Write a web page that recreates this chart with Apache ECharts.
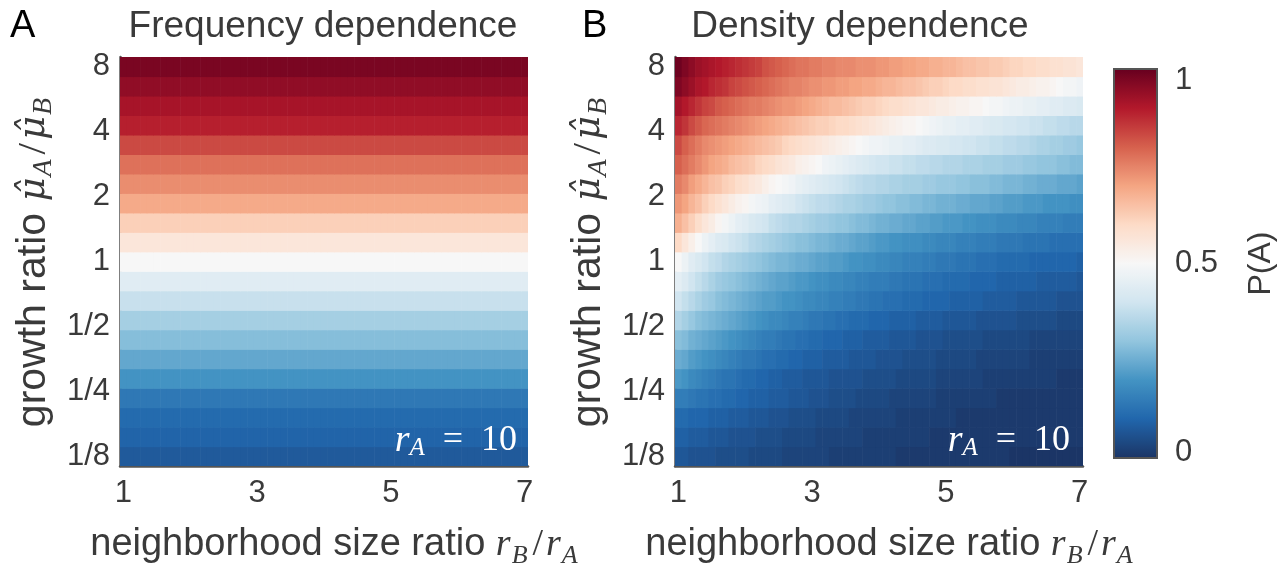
<!DOCTYPE html>
<html>
<head>
<meta charset="utf-8">
<title>P(A) heatmaps</title>
<script src="https://cdn.jsdelivr.net/npm/echarts@6/dist/echarts.min.js"></script>
<style>
    html, body { margin: 0; background: #fff; }
    #chart { width: 1287px; height: 565px; }
</style>
</head>
<body>
<div id="chart"></div>
<script>
// neighborhood size ratio r_B/r_A (one column per value)
var ratioCols = [1.0, 1.1, 1.2, 1.3, 1.4, 1.5, 1.6, 1.7, 1.8, 1.9,
    2.0, 2.1, 2.2, 2.3, 2.4, 2.5, 2.6, 2.7, 2.8, 2.9,
    3.0, 3.1, 3.2, 3.3, 3.4, 3.5, 3.6, 3.7, 3.8, 3.9,
    4.0, 4.1, 4.2, 4.3, 4.4, 4.5, 4.6, 4.7, 4.8, 4.9,
    5.0, 5.1, 5.2, 5.3, 5.4, 5.5, 5.6, 5.7, 5.8, 5.9,
    6.0, 6.1, 6.2, 6.3, 6.4, 6.5, 6.6, 6.7, 6.8, 6.9, 7.0]
// growth ratio as log2, bottom (1/8) to top (8)
var growthRows = [-3, -2.7, -2.4, -2.1, -1.8, -1.5, -1.2, -0.9, -0.6, -0.3, 0,
    0.3, 0.6, 0.9, 1.2, 1.5, 1.8, 2.1, 2.4, 2.7, 3]

var xTickVals = [1, 3, 5, 7]
var yTickVals = [-3, -2, -1, 0, 1, 2, 3]
var yTickLabels = ['1/8', '1/4', '1/2', '1', '2', '4', '8']
var cbTickVals = [0, 0.5, 1]

// A: frequency dependence, P(A) in percent per row (same along r_B/r_A)
var freqP = [7.5, 9.5, 11, 14, 20, 24, 28.5, 33, 38.5, 44, 50,
    56, 62, 69, 73.5, 77.5, 83, 89, 91.5, 94.5, 97.5]

// B: density dependence, P(A) in percent, rows bottom -> top, columns r_B/r_A 1..7
var densP = [
    [7,7,6,6,6,6,5,5,5,5, 5,4,4,4,4,4,3,3,3,3, 3,3,3,2,2,2,2,2,2,2, 2,2,2,1,1,1,1,1,1,1, 1,1,1,1,1,1,1,1,1,1, 0,0,0,0,0,0,0,0,0,0, 0],
    [9,9,8,8,8,7,7,7,6,6, 6,6,5,5,5,5,4,4,4,4, 4,3,3,3,3,3,3,3,2,2, 2,2,2,2,2,2,2,2,1,1, 1,1,1,1,1,1,1,1,1,1, 1,1,1,1,1,1,1,1,1,1, 1],
    [11,11,10,10,10,9,9,9,8,8, 8,7,7,7,6,6,6,5,5,5, 5,4,4,4,4,4,3,3,3,3, 3,3,3,2,2,2,2,2,2,2, 2,2,1,1,1,1,1,1,1,1, 1,1,1,1,1,1,1,1,1,1, 1],
    [15,15,14,13,13,12,12,11,11,10, 10,9,9,9,8,8,8,7,7,7, 6,6,6,5,5,5,5,4,4,4, 4,4,3,3,3,3,3,3,3,2, 2,2,2,2,2,2,2,2,1,1, 1,1,1,1,1,1,1,1,1,1, 1],
    [21,20,18,17,16,15,14,13,13,12, 11,11,10,10,9,9,8,8,8,7, 7,7,7,6,6,6,6,6,5,5, 5,5,5,4,4,4,4,4,4,3, 3,3,3,3,3,3,2,2,2,2, 2,2,2,2,2,2,2,1,1,1, 1],
    [25,24,22,21,20,19,18,17,16,15, 14,14,13,12,12,11,11,10,10,9, 9,9,8,8,8,8,7,7,7,7, 6,6,6,6,5,5,5,5,5,4, 4,4,4,4,4,3,3,3,3,3, 3,3,3,2,2,2,2,2,2,2, 2],
    [29,28,26,25,24,23,22,21,20,19, 18,17,16,15,15,14,13,13,12,12, 11,11,10,10,10,9,9,9,8,8, 8,8,7,7,7,7,6,6,6,6, 5,5,5,5,5,5,4,4,4,4, 4,4,4,3,3,3,3,3,3,3, 3],
    [35,33,31,29,28,27,26,25,24,23, 22,21,20,19,18,18,17,16,16,15, 14,14,13,13,12,12,11,11,11,10, 10,10,9,9,9,9,8,8,8,8, 7,7,7,7,7,6,6,6,6,6, 6,5,5,5,5,5,5,4,4,4, 4],
    [40,38,36,34,32,31,29,28,27,26, 25,24,23,22,22,21,20,20,19,18, 18,17,17,16,16,15,15,14,14,13, 13,12,12,12,11,11,11,10,10,10, 10,9,9,9,9,9,8,8,8,8, 8,7,7,7,7,7,7,6,6,6, 6],
    [45,43,40,38,36,34,32,31,30,29, 28,27,26,25,24,23,23,22,21,21, 20,19,19,18,18,17,17,16,16,15, 15,15,14,14,13,13,13,12,12,12, 11,11,11,11,10,10,10,10,9,9, 9,9,9,9,8,8,8,8,8,8, 7],
    [50,47,44,42,40,38,37,35,34,33, 32,31,30,29,28,27,27,26,25,25, 24,23,23,22,22,21,20,20,19,19, 18,18,17,17,16,16,16,15,15,14, 14,14,13,13,13,12,12,12,11,11, 11,11,11,10,10,10,10,10,10,10, 9],
    [60,56,53,50,47,45,43,42,40,39, 38,36,35,34,33,32,31,30,29,29, 28,27,27,26,25,25,24,23,23,22, 21,21,20,20,19,19,19,18,18,17, 17,17,16,16,16,15,15,15,14,14, 14,14,13,13,13,13,12,12,12,12, 12],
    [68,65,62,59,56,54,51,49,47,45, 44,42,41,40,38,37,36,35,35,34, 33,32,32,31,30,30,29,28,28,27, 26,26,25,25,24,24,23,23,22,22, 21,21,21,20,20,19,19,19,18,18, 18,17,17,17,16,16,16,16,15,15, 15],
    [72,70,67,65,62,60,58,56,54,52, 51,49,48,47,45,44,43,42,40,39, 38,37,37,36,35,34,34,33,32,32, 31,30,30,29,29,28,28,27,27,26, 26,26,25,25,24,24,24,23,23,22, 22,22,21,21,21,20,20,20,20,19, 19],
    [76,74,71,69,67,65,64,62,61,59, 58,56,55,53,51,50,49,48,46,45, 44,43,42,41,40,39,38,37,36,36, 35,35,34,34,33,33,33,32,32,31, 31,31,30,30,29,29,29,28,28,27, 27,27,26,26,25,25,25,24,24,24, 23],
    [80,78,76,74,72,70,69,68,66,65, 64,63,61,60,59,57,56,55,53,52, 51,50,48,47,46,45,44,43,42,41, 40,40,39,39,38,38,37,37,36,36, 35,35,35,34,34,34,33,33,33,32, 32,32,31,31,30,30,30,29,29,28, 28],
    [83,80,78,76,74,73,72,71,70,69, 68,67,66,65,64,63,61,60,59,58, 57,56,55,54,53,52,51,50,49,48, 48,47,46,46,45,45,44,43,43,42, 42,41,41,40,40,39,39,38,38,37, 37,36,36,35,34,34,33,33,32,32, 31],
    [88,86,83,81,79,78,77,76,75,74, 73,72,71,70,69,68,67,66,65,64, 63,62,62,61,60,60,59,58,57,56, 55,54,53,52,51,51,50,49,48,47, 46,46,45,45,44,44,43,42,42,41, 41,40,40,39,39,38,38,37,37,36, 36],
    [92,90,88,86,84,83,81,80,79,78, 77,76,76,75,74,73,72,72,71,70, 69,68,67,66,66,65,64,63,62,62, 61,60,59,59,58,57,56,56,55,54, 54,53,52,52,51,51,50,49,49,48, 47,47,46,46,45,45,44,44,43,43, 42],
    [97,95,93,91,90,88,87,86,84,83, 82,81,80,79,78,77,76,75,75,74, 73,73,72,72,71,71,70,70,69,69, 68,67,67,66,65,65,64,63,62,62, 61,60,60,59,59,58,58,57,57,56, 55,54,54,53,52,52,51,50,49,49, 48],
    [99,97,95,93,92,91,90,89,88,87, 86,85,84,82,81,80,79,78,77,77, 76,76,75,75,74,74,74,73,73,73, 72,72,71,71,70,70,69,69,68,68, 67,67,66,65,65,64,64,63,63,62, 61,61,60,60,59,59,58,58,57,57, 56]
]

var rdbu = ['#1b3566', '#2166ac', '#4393c3', '#92c5de', '#d1e5f0', '#f7f7f7',
    '#fddbc7', '#f4a582', '#d6604d', '#b2182b', '#67001f']

var sans = "'Liberation Sans', Arial, Helvetica, sans-serif"
var serif = "'Liberation Serif', 'DejaVu Serif', serif"
var muFont = "'DejaVu Serif', 'Liberation Serif', serif"
var textGray = '#3a3a3a'
var axisGray = '#555'

var freqData = []
var densData = []
growthRows.forEach(function (g, r) {
    ratioCols.forEach(function (x, c) {
        freqData.push([x, g, freqP[r] / 100])
        densData.push([x, g, densP[r][c] / 100])
    })
})

// one cell = 0.1 wide in r_B/r_A, 0.3 high in log2 growth ratio
function renderCell(params, api) {
    var x = api.value(0)
    var y = api.value(1)
    var p0 = api.coord([x - 0.05, y + 0.15])
    var p1 = api.coord([x + 0.05, y - 0.15])
    return {
        type: 'rect',
        shape: { x: p0[0], y: p0[1], width: p1[0] - p0[0] + 0.6, height: p1[1] - p0[1] + 0.6 },
        style: { fill: api.visual('color') }
    }
}

function mathRich(size) {
    return {
        t: { fontFamily: sans, fontSize: size, color: textGray, lineHeight: 48 },
        m: { fontFamily: serif, fontStyle: 'italic', fontSize: size, color: textGray, lineHeight: 48 },
        u: { fontFamily: muFont, fontStyle: 'italic', fontSize: size - 4, color: textGray, lineHeight: 48 },
        d: { fontFamily: serif, fontSize: size, color: textGray, lineHeight: 48, padding: [0, 3, 0, 3] },
        s: { fontFamily: serif, fontStyle: 'italic', fontSize: Math.round(size * 0.68), color: textGray, verticalAlign: 'bottom', padding: [0, 2, 0, 1] }
    }
}

function panelX(i) {
    return {
        gridIndex: i,
        type: 'value',
        min: 0.95,
        max: 7.05,
        axisLine: { show: true, onZero: false, lineStyle: { color: axisGray, width: 2.5 } },
        axisTick: { show: true, inside: true, length: 5, customValues: xTickVals, lineStyle: { color: axisGray, width: 2 } },
        axisLabel: { customValues: xTickVals, fontFamily: sans, fontSize: 31, color: textGray, margin: 12 },
        splitLine: { show: false },
        name: '{t|neighborhood size ratio }{m|r}{s|B}{d|/}{m|r}{s|A}',
        nameLocation: 'middle',
        nameGap: 55,
        nameTextStyle: { padding: [0, 0, 0, 22], rich: mathRich(38) }
    }
}

function panelY(i) {
    return {
        gridIndex: i,
        type: 'value',
        min: -3.15,
        max: 3.15,
        axisLine: { show: true, onZero: false, lineStyle: { color: axisGray, width: 2.5 } },
        axisTick: { show: true, inside: true, length: 5, customValues: yTickVals, lineStyle: { color: axisGray, width: 2 } },
        axisLabel: {
            customValues: yTickVals,
            fontFamily: sans,
            fontSize: 31,
            color: textGray,
            margin: 10,
            formatter: function (v) {
                return yTickLabels[yTickVals.indexOf(v)]
            }
        },
        splitLine: { show: false },
        name: '{t|growth ratio }{u|μ̂}{s|A}{d|/}{u|μ̂}{s|B}',
        nameLocation: 'middle',
        nameGap: 62,
        nameTextStyle: { rich: mathRich(41) }
    }
}

function titleText(text, left, align, color, size) {
    return {
        text: text,
        left: left,
        top: 8,
        textAlign: align,
        padding: 0,
        textStyle: { fontFamily: sans, fontWeight: 'normal', fontSize: size, color: color }
    }
}

function rLabel(right) {
    return {
        type: 'text',
        right: right,
        bottom: 104,
        z: 10,
        style: {
            text: '{m|r}{s|A}{d|  =  10}',
            rich: {
                m: { fontFamily: serif, fontStyle: 'italic', fontSize: 38, fill: '#fff', lineHeight: 40 },
                s: { fontFamily: serif, fontStyle: 'italic', fontSize: 25, fill: '#fff', verticalAlign: 'bottom' },
                d: { fontFamily: serif, fontSize: 36, fill: '#fff', lineHeight: 40 }
            }
        }
    }
}

var chart = echarts.init(document.getElementById('chart'))
chart.setOption({
    animation: false,
    backgroundColor: '#fff',
    title: [
        titleText('A', 10, 'left', '#000', 38),
        titleText('Frequency dependence', 323, 'center', textGray, 37),
        titleText('B', 582, 'left', '#000', 38),
        titleText('Density dependence', 860, 'center', textGray, 37)
    ],
    grid: [
        { left: 120, top: 57, width: 408, height: 409, outerBoundsMode: 'none' },
        { left: 675, top: 57, width: 408, height: 409, outerBoundsMode: 'none' },
        {
            left: 1114, top: 69, width: 43, height: 389, show: true, z: 5, outerBoundsMode: 'none',
            borderColor: axisGray, borderWidth: 2, backgroundColor: 'transparent'
        }
    ],
    xAxis: [
        panelX(0),
        panelX(1),
        { gridIndex: 2, type: 'value', min: 0, max: 1, show: false }
    ],
    yAxis: [
        panelY(0),
        panelY(1),
        {
            gridIndex: 2,
            type: 'value',
            min: 0,
            max: 1,
            position: 'right',
            z: 10,
            axisLine: { show: false },
            axisTick: { show: false },
            axisLabel: {
                customValues: cbTickVals,
                fontFamily: sans,
                fontSize: 31,
                color: textGray,
                margin: 18,
                formatter: function (v) {
                    if (v === 1) return '{hi|1}'
                    if (v === 0) return '{lo|0}'
                    return String(v)
                },
                rich: {
                    hi: { fontFamily: sans, fontSize: 31, color: textGray, padding: [22, 0, 0, 0] },
                    lo: { fontFamily: sans, fontSize: 31, color: textGray, padding: [0, 0, 12, 0] }
                }
            },
            splitLine: { show: false },
            name: 'P(A)',
            nameLocation: 'middle',
            nameRotate: 90,
            nameGap: 88,
            nameTextStyle: { fontFamily: sans, fontSize: 32, color: textGray }
        }
    ],
    visualMap: {
        type: 'continuous',
        min: 0,
        max: 1,
        dimension: 2,
        seriesIndex: [0, 1],
        left: 1114,
        top: 69,
        itemWidth: 43,
        itemHeight: 389,
        padding: 0,
        calculable: false,
        hoverLink: false,
        inRange: { color: rdbu }
    },
    series: [
        {
            type: 'custom',
            xAxisIndex: 0,
            yAxisIndex: 0,
            renderItem: renderCell,
            encode: { x: 0, y: 1 },
            clip: true,
            data: freqData
        },
        {
            type: 'custom',
            xAxisIndex: 1,
            yAxisIndex: 1,
            renderItem: renderCell,
            encode: { x: 0, y: 1 },
            clip: true,
            data: densData
        }
    ],
    graphic: [rLabel(1287 - 517), rLabel(1287 - 1070)]
})
</script>
</body>
</html>
